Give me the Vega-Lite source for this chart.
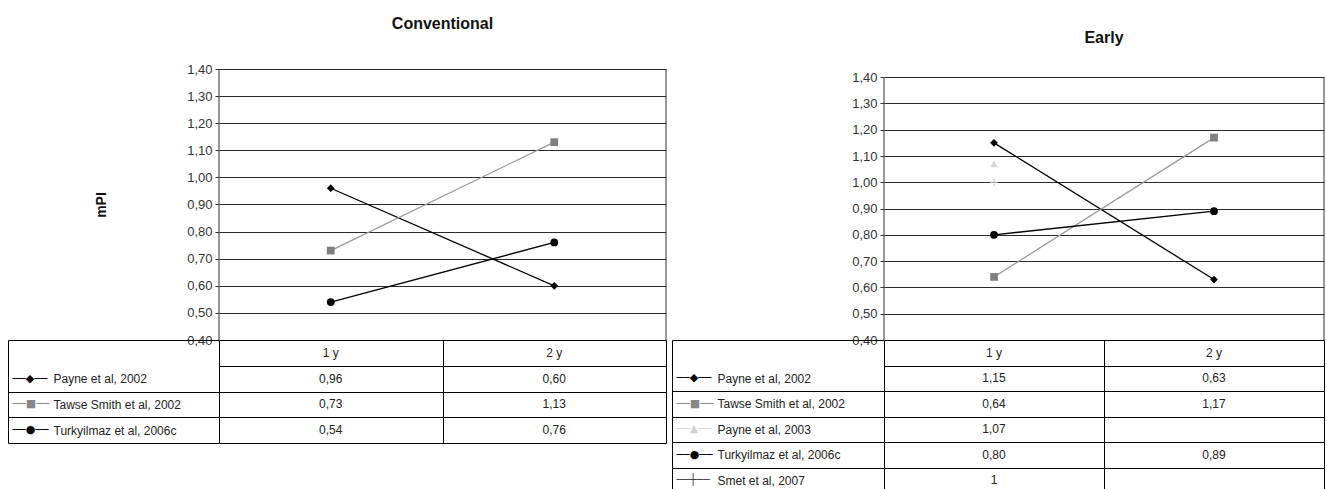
{
  "$schema": "https://vega.github.io/schema/vega-lite/v6.json",
  "padding": {"left": 7, "top": 16, "right": 0, "bottom": 0},
  "background": "white",
  "config": {
    "view": {"stroke": null},
    "font": "Liberation Sans",
    "axis": {"labelFont": "Liberation Sans", "titleFont": "Liberation Sans"},
    "title": {"font": "Liberation Sans"}
  },
  "datasets": {
    "conv": [
      {"series": "Payne et al, 2002", "year": "1 y", "value": 0.96, "shown": "0,96"},
      {"series": "Payne et al, 2002", "year": "2 y", "value": 0.60, "shown": "0,60"},
      {"series": "Tawse Smith et al, 2002", "year": "1 y", "value": 0.73, "shown": "0,73"},
      {"series": "Tawse Smith et al, 2002", "year": "2 y", "value": 1.13, "shown": "1,13"},
      {"series": "Turkyilmaz et al, 2006c", "year": "1 y", "value": 0.54, "shown": "0,54"},
      {"series": "Turkyilmaz et al, 2006c", "year": "2 y", "value": 0.76, "shown": "0,76"}
    ],
    "early": [
      {"series": "Payne et al, 2002", "year": "1 y", "value": 1.15, "shown": "1,15"},
      {"series": "Payne et al, 2002", "year": "2 y", "value": 0.63, "shown": "0,63"},
      {"series": "Tawse Smith et al, 2002", "year": "1 y", "value": 0.64, "shown": "0,64"},
      {"series": "Tawse Smith et al, 2002", "year": "2 y", "value": 1.17, "shown": "1,17"},
      {"series": "Payne et al, 2003", "year": "1 y", "value": 1.07, "shown": "1,07"},
      {"series": "Turkyilmaz et al, 2006c", "year": "1 y", "value": 0.80, "shown": "0,80"},
      {"series": "Turkyilmaz et al, 2006c", "year": "2 y", "value": 0.89, "shown": "0,89"},
      {"series": "Smet et al, 2007", "year": "1 y", "value": 1.0, "shown": "1"}
    ],
    "headers": [{"year": "1 y"}, {"year": "2 y"}],
    "one": [{}]
  },
  "spacing": 4,
  "hconcat": [
    {
      "spacing": 0,
      "bounds": "flush",
      "vconcat": [
        {
          "width": 447,
          "height": 271,
          "title": {"text": "Conventional", "fontSize": 16, "fontWeight": "bold", "offset": 31, "anchor": "middle", "color": "#111"},
          "layer": [
            {
              "data": {"name": "conv"},
              "mark": {"type": "line", "strokeWidth": 1.3},
              "encoding": {
                "x": {"field": "year", "type": "nominal", "scale": {"type": "band", "domain": ["1 y", "2 y"], "paddingInner": 0, "paddingOuter": 0}, "axis": null},
                "y": {"field": "value", "type": "quantitative", "scale": {"domain": [0.4, 1.4], "nice": false, "zero": false},
                  "axis": {"values": [0.4, 0.5, 0.6, 0.7, 0.8, 0.9, 1.0, 1.1, 1.2, 1.3, 1.4], "labelOverlap": false,
                    "labelExpr": "replace(format(datum.value, '.2f'), '.', ',')",
                    "grid": true, "gridColor": "#2a2a2a", "gridWidth": 1, "domain": false,
                    "tickSize": 4, "tickColor": "#333", "labelFontSize": 13, "labelColor": "#333", "labelPadding": 3,
                    "title": "mPI", "titleFontSize": 14, "titleFontWeight": "bold", "titlePadding": 78, "titleColor": "#111"}},
                "stroke": {"field": "series", "type": "nominal", "legend": null,
                  "scale": {"domain": ["Payne et al, 2002", "Tawse Smith et al, 2002", "Payne et al, 2003", "Turkyilmaz et al, 2006c", "Smet et al, 2007"],
                    "range": ["#000000", "#9a9a9a", "#dddddd", "#000000", "#cccccc"]}},
                "detail": {"field": "series"}
              }
            },
            {
              "data": {"name": "conv"},
              "mark": {"type": "point", "filled": true, "opacity": 1, "size": 60},
              "encoding": {
                "x": {"field": "year", "type": "nominal"},
                "y": {"field": "value", "type": "quantitative",
                  "axis": {"values": [0.4, 0.5, 0.6, 0.7, 0.8, 0.9, 1.0, 1.1, 1.2, 1.3, 1.4], "labelOverlap": false,
                    "labelExpr": "replace(format(datum.value, '.2f'), '.', ',')",
                    "grid": true, "gridColor": "#2a2a2a", "gridWidth": 1, "domain": false,
                    "tickSize": 4, "tickColor": "#333", "labelFontSize": 13, "labelColor": "#333", "labelPadding": 3,
                    "title": "mPI", "titleFontSize": 14, "titleFontWeight": "bold", "titlePadding": 78, "titleColor": "#111"}},
                "fill": {"field": "series", "type": "nominal", "legend": null,
                  "scale": {"domain": ["Payne et al, 2002", "Tawse Smith et al, 2002", "Payne et al, 2003", "Turkyilmaz et al, 2006c", "Smet et al, 2007"],
                    "range": ["#000000", "#7f7f7f", "#d8d8d8", "#000000", "#c8c8c8"]}},
                "shape": {"field": "series", "type": "nominal", "legend": null,
                  "scale": {"domain": ["Payne et al, 2002", "Tawse Smith et al, 2002", "Payne et al, 2003", "Turkyilmaz et al, 2006c", "Smet et al, 2007"],
                    "range": ["diamond", "square", "triangle-up", "circle", "M-0.15,-1H0.15V-0.15H1V0.15H0.15V1H-0.15V0.15H-1V-0.15H-0.15Z"]}}
              }
            },
            {
              "data": {"name": "one"},
              "mark": {"type": "rule", "color": "#333", "strokeWidth": 1},
              "encoding": {"x": {"datum": "1 y", "bandPosition": 0},
                "y": {"datum": 1.4, "type": "quantitative",
                  "axis": {"values": [0.4, 0.5, 0.6, 0.7, 0.8, 0.9, 1.0, 1.1, 1.2, 1.3, 1.4], "labelOverlap": false,
                    "labelExpr": "replace(format(datum.value, '.2f'), '.', ',')",
                    "grid": true, "gridColor": "#2a2a2a", "gridWidth": 1, "domain": false,
                    "tickSize": 4, "tickColor": "#333", "labelFontSize": 13, "labelColor": "#333", "labelPadding": 3,
                    "title": "mPI", "titleFontSize": 14, "titleFontWeight": "bold", "titlePadding": 78, "titleColor": "#111"}},
                "y2": {"datum": 0.4}}
            },
            {
              "data": {"name": "one"},
              "mark": {"type": "rule", "color": "#333", "strokeWidth": 1},
              "encoding": {"x": {"datum": "2 y", "bandPosition": 1},
                "y": {"datum": 1.4, "type": "quantitative",
                  "axis": {"values": [0.4, 0.5, 0.6, 0.7, 0.8, 0.9, 1.0, 1.1, 1.2, 1.3, 1.4], "labelOverlap": false,
                    "labelExpr": "replace(format(datum.value, '.2f'), '.', ',')",
                    "grid": true, "gridColor": "#2a2a2a", "gridWidth": 1, "domain": false,
                    "tickSize": 4, "tickColor": "#333", "labelFontSize": 13, "labelColor": "#333", "labelPadding": 3,
                    "title": "mPI", "titleFontSize": 14, "titleFontWeight": "bold", "titlePadding": 78, "titleColor": "#111"}},
                "y2": {"datum": 0.4}}
            }
          ]
        },
        {
          "width": 447,
          "height": 103,
          "resolve": {"axis": {"y": "independent"}},
          "layer": [
            {
              "data": {"name": "conv"},
              "mark": {"type": "text", "fontSize": 12, "color": "#222"},
              "encoding": {
                "x": {"field": "year", "type": "nominal", "scale": {"type": "band", "domain": ["1 y", "2 y"], "paddingInner": 0, "paddingOuter": 0},
                  "axis": {"orient": "bottom", "grid": true, "gridColor": "#000", "gridWidth": 1, "tickBand": "extent", "labels": false, "ticks": false, "domain": false, "title": null}},
                "y": {"field": "series", "type": "nominal",
                  "scale": {"domain": ["hdr", "Payne et al, 2002", "Tawse Smith et al, 2002", "Turkyilmaz et al, 2006c"], "paddingInner": 0, "paddingOuter": 0},
                  "axis": {"orient": "left", "grid": true, "gridColor": "#000", "gridWidth": 1, "tickBand": "extent", "domain": false,
                    "tickSize": 211, "tickColor": {"condition": {"test": "datum.value == 'hdr'", "value": "transparent"}, "value": "#000"},
                    "labelExpr": "datum.value == 'hdr' ? '' : datum.value", "labelAlign": "left", "labelPadding": -45,
                    "labelFontSize": 12, "labelColor": "#222", "title": null}},
                "text": {"field": "shown"}
              }
            },
            {
              "data": {"name": "headers"},
              "mark": {"type": "text", "fontSize": 12, "color": "#222"},
              "encoding": {
                "x": {"field": "year", "type": "nominal"},
                "y": {"datum": "hdr", "axis": {"orient": "left", "grid": false, "ticks": false, "tickSize": 0, "domain": true, "domainColor": "#000", "offset": 211,
                  "labelExpr": "datum.value == 'Payne et al, 2002' ? '──◆──' : datum.value == 'Tawse Smith et al, 2002' ? '──■──' : datum.value == 'Payne et al, 2003' ? '──▲──' : datum.value == 'Turkyilmaz et al, 2006c' ? '──●──' : datum.value == 'Smet et al, 2007' ? '──┼──' : ''",
                  "labelAlign": "left", "labelPadding": -4, "labelFont": "DejaVu Sans", "labelFontSize": 11,
                  "labelColor": {"condition": [{"test": "datum.value == 'Tawse Smith et al, 2002'", "value": "#888"}, {"test": "datum.value == 'Payne et al, 2003'", "value": "#d4d4d4"}, {"test": "datum.value == 'Smet et al, 2007'", "value": "#444"}], "value": "#000"},
                  "title": null}},
                "text": {"field": "year"}
              }
            }
          ]
        }
      ]
    },
    {
      "spacing": 0,
      "bounds": "flush",
      "vconcat": [
        {
          "width": 440,
          "height": 271,
          "title": {"text": "Early", "fontSize": 16, "fontWeight": "bold", "offset": 23, "anchor": "middle", "color": "#111"},
          "layer": [
            {
              "data": {"name": "early"},
              "mark": {"type": "line", "strokeWidth": 1.3},
              "encoding": {
                "x": {"field": "year", "type": "nominal", "scale": {"type": "band", "domain": ["1 y", "2 y"], "paddingInner": 0, "paddingOuter": 0}, "axis": null},
                "y": {"field": "value", "type": "quantitative", "scale": {"domain": [0.4, 1.431], "nice": false, "zero": false},
                  "axis": {"values": [0.4, 0.5, 0.6, 0.7, 0.8, 0.9, 1.0, 1.1, 1.2, 1.3, 1.4], "labelOverlap": false,
                    "labelExpr": "replace(format(datum.value, '.2f'), '.', ',')",
                    "grid": true, "gridColor": "#2a2a2a", "gridWidth": 1, "domain": false,
                    "tickSize": 4, "tickColor": "#333", "labelFontSize": 13, "labelColor": "#333", "labelPadding": 3,
                    "title": null}},
                "stroke": {"field": "series", "type": "nominal", "legend": null,
                  "scale": {"domain": ["Payne et al, 2002", "Tawse Smith et al, 2002", "Payne et al, 2003", "Turkyilmaz et al, 2006c", "Smet et al, 2007"],
                    "range": ["#000000", "#9a9a9a", "#dddddd", "#000000", "#cccccc"]}},
                "detail": {"field": "series"}
              }
            },
            {
              "data": {"name": "early"},
              "mark": {"type": "point", "filled": true, "opacity": 1, "size": 60},
              "encoding": {
                "x": {"field": "year", "type": "nominal"},
                "y": {"field": "value", "type": "quantitative",
                  "axis": {"values": [0.4, 0.5, 0.6, 0.7, 0.8, 0.9, 1.0, 1.1, 1.2, 1.3, 1.4], "labelOverlap": false,
                    "labelExpr": "replace(format(datum.value, '.2f'), '.', ',')",
                    "grid": true, "gridColor": "#2a2a2a", "gridWidth": 1, "domain": false,
                    "tickSize": 4, "tickColor": "#333", "labelFontSize": 13, "labelColor": "#333", "labelPadding": 3,
                    "title": null}},
                "fill": {"field": "series", "type": "nominal", "legend": null,
                  "scale": {"domain": ["Payne et al, 2002", "Tawse Smith et al, 2002", "Payne et al, 2003", "Turkyilmaz et al, 2006c", "Smet et al, 2007"],
                    "range": ["#000000", "#7f7f7f", "#d8d8d8", "#000000", "#c8c8c8"]}},
                "shape": {"field": "series", "type": "nominal", "legend": null,
                  "scale": {"domain": ["Payne et al, 2002", "Tawse Smith et al, 2002", "Payne et al, 2003", "Turkyilmaz et al, 2006c", "Smet et al, 2007"],
                    "range": ["diamond", "square", "triangle-up", "circle", "M-0.15,-1H0.15V-0.15H1V0.15H0.15V1H-0.15V0.15H-1V-0.15H-0.15Z"]}}
              }
            },
            {
              "data": {"name": "one"},
              "mark": {"type": "rule", "color": "#333", "strokeWidth": 1},
              "encoding": {"x": {"datum": "1 y", "bandPosition": 0},
                "y": {"datum": 1.4, "type": "quantitative",
                  "axis": {"values": [0.4, 0.5, 0.6, 0.7, 0.8, 0.9, 1.0, 1.1, 1.2, 1.3, 1.4], "labelOverlap": false,
                    "labelExpr": "replace(format(datum.value, '.2f'), '.', ',')",
                    "grid": true, "gridColor": "#2a2a2a", "gridWidth": 1, "domain": false,
                    "tickSize": 4, "tickColor": "#333", "labelFontSize": 13, "labelColor": "#333", "labelPadding": 3,
                    "title": null}},
                "y2": {"datum": 0.4}}
            },
            {
              "data": {"name": "one"},
              "mark": {"type": "rule", "color": "#333", "strokeWidth": 1},
              "encoding": {"x": {"datum": "2 y", "bandPosition": 1},
                "y": {"datum": 1.4, "type": "quantitative",
                  "axis": {"values": [0.4, 0.5, 0.6, 0.7, 0.8, 0.9, 1.0, 1.1, 1.2, 1.3, 1.4], "labelOverlap": false,
                    "labelExpr": "replace(format(datum.value, '.2f'), '.', ',')",
                    "grid": true, "gridColor": "#2a2a2a", "gridWidth": 1, "domain": false,
                    "tickSize": 4, "tickColor": "#333", "labelFontSize": 13, "labelColor": "#333", "labelPadding": 3,
                    "title": null}},
                "y2": {"datum": 0.4}}
            }
          ]
        },
        {
          "width": 440,
          "height": 153,
          "resolve": {"axis": {"y": "independent"}},
          "layer": [
            {
              "data": {"name": "early"},
              "mark": {"type": "text", "fontSize": 12, "color": "#222"},
              "encoding": {
                "x": {"field": "year", "type": "nominal", "scale": {"type": "band", "domain": ["1 y", "2 y"], "paddingInner": 0, "paddingOuter": 0},
                  "axis": {"orient": "bottom", "grid": true, "gridColor": "#000", "gridWidth": 1, "tickBand": "extent", "labels": false, "ticks": false, "domain": false, "title": null}},
                "y": {"field": "series", "type": "nominal",
                  "scale": {"domain": ["hdr", "Payne et al, 2002", "Tawse Smith et al, 2002", "Payne et al, 2003", "Turkyilmaz et al, 2006c", "Smet et al, 2007"], "paddingInner": 0, "paddingOuter": 0},
                  "axis": {"orient": "left", "grid": true, "gridColor": "#000", "gridWidth": 1, "tickBand": "extent", "domain": false,
                    "tickSize": 212, "tickColor": {"condition": {"test": "datum.value == 'hdr'", "value": "transparent"}, "value": "#000"},
                    "labelExpr": "datum.value == 'hdr' ? '' : datum.value", "labelAlign": "left", "labelPadding": -45,
                    "labelFontSize": 12, "labelColor": "#222", "title": null}},
                "text": {"field": "shown"}
              }
            },
            {
              "data": {"name": "headers"},
              "mark": {"type": "text", "fontSize": 12, "color": "#222"},
              "encoding": {
                "x": {"field": "year", "type": "nominal"},
                "y": {"datum": "hdr", "axis": {"orient": "left", "grid": false, "ticks": false, "tickSize": 0, "domain": true, "domainColor": "#000", "offset": 212,
                  "labelExpr": "datum.value == 'Payne et al, 2002' ? '──◆──' : datum.value == 'Tawse Smith et al, 2002' ? '──■──' : datum.value == 'Payne et al, 2003' ? '──▲──' : datum.value == 'Turkyilmaz et al, 2006c' ? '──●──' : datum.value == 'Smet et al, 2007' ? '──┼──' : ''",
                  "labelAlign": "left", "labelPadding": -4, "labelFont": "DejaVu Sans", "labelFontSize": 11,
                  "labelColor": {"condition": [{"test": "datum.value == 'Tawse Smith et al, 2002'", "value": "#888"}, {"test": "datum.value == 'Payne et al, 2003'", "value": "#d4d4d4"}, {"test": "datum.value == 'Smet et al, 2007'", "value": "#444"}], "value": "#000"},
                  "title": null}},
                "text": {"field": "year"}
              }
            }
          ]
        }
      ]
    }
  ]
}
